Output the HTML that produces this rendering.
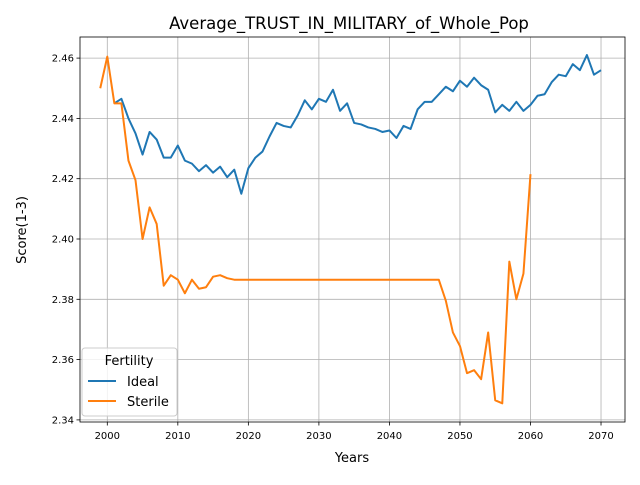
<!DOCTYPE html>
<html><head><meta charset="utf-8"><style>
body{margin:0;background:#fff;font-family:"Liberation Sans","DejaVu Sans",sans-serif}
svg text{font-family:"DejaVu Sans","Liberation Sans",sans-serif}
</style></head><body>
<svg id="chart" width="640" height="480">
<rect width="640" height="480" fill="#fff"/>
<text x="349" y="29" text-anchor="middle" font-size="16.5">Average_TRUST_IN_MILITARY_of_Whole_Pop</text>
<g id="grid"></g><g id="series"></g><g id="axes"></g>
<text x="352" y="462" text-anchor="middle" font-size="13">Years</text>
<text x="26" y="230" text-anchor="middle" font-size="13" transform="rotate(-90 26 230)">Score(1-3)</text>
<g>
<rect x="82" y="348" width="95" height="68" rx="3" fill="#fff" fill-opacity="0.8" stroke="#ccc"/>
<text x="129" y="365" text-anchor="middle" font-size="13">Fertility</text>
<g><line x1="88" y1="381" x2="116" y2="381" stroke="#1f77b4" stroke-width="2"/><text x="127" y="386" font-size="13">Ideal</text></g>
<g><line x1="88" y1="401" x2="116" y2="401" stroke="#ff7f0e" stroke-width="2"/><text x="127" y="406" font-size="13">Sterile</text></g>
</g>
</svg>
<script>
const idealYears=[];for(let y=2001;y<=2070;y++)idealYears.push(y);
const idealValues=[2.445,2.4465,2.440,2.435,2.428,2.4355,2.433,2.427,2.427,2.431,2.426,2.425,2.4225,2.4245,2.422,2.424,2.4205,2.423,2.415,2.4235,2.427,2.429,2.434,2.4385,2.4375,2.437,2.441,2.446,2.443,2.4465,2.4455,2.4495,2.4425,2.445,2.4385,2.438,2.437,2.4365,2.4355,2.436,2.4335,2.4375,2.4365,2.443,2.4455,2.4455,2.448,2.4505,2.449,2.4525,2.4505,2.4535,2.451,2.4495,2.442,2.4445,2.4425,2.4455,2.4425,2.4445,2.4475,2.448,2.452,2.4545,2.454,2.458,2.456,2.461,2.4545,2.456];
const sterileYears=[];for(let y=1999;y<=2060;y++)sterileYears.push(y);
const sterileValues=[2.450,2.4605,2.445,2.445,2.426,2.4195,2.400,2.4105,2.405,2.3845,2.388,2.3865,2.382,2.3865,2.3835,2.384,2.3875,2.388,2.387,2.3865,2.3865,2.3865,2.3865,2.3865,2.3865,2.3865,2.3865,2.3865,2.3865,2.3865,2.3865,2.3865,2.3865,2.3865,2.3865,2.3865,2.3865,2.3865,2.3865,2.3865,2.3865,2.3865,2.3865,2.3865,2.3865,2.3865,2.3865,2.3865,2.3865,2.3795,2.369,2.3645,2.3555,2.3565,2.3535,2.369,2.3465,2.3455,2.3925,2.380,2.3885,2.4215];
const xTicks=[2000,2010,2020,2030,2040,2050,2060,2070];
const yTicks=[2.34,2.36,2.38,2.40,2.42,2.44,2.46];
const L=80,R=625,T=37,B=422,x0=1996.13,x1=2073.4,y0=2.3393,y1=2.467;
const sx=v=>L+(v-x0)/(x1-x0)*(R-L);
const sy=v=>B-(v-y0)/(y1-y0)*(B-T);
const NS="http://www.w3.org/2000/svg";
function mk(tag,attrs,parent){const e=document.createElementNS(NS,tag);for(const k in attrs)e.setAttribute(k,attrs[k]);parent.appendChild(e);return e;}
const grid=document.getElementById('grid'),axes=document.getElementById('axes'),ser=document.getElementById('series');
xTicks.forEach(t=>{const x=sx(t);
mk('line',{x1:x,x2:x,y1:T,y2:B,stroke:'#b0b0b0','stroke-width':0.8},grid);
mk('line',{x1:x,x2:x,y1:B,y2:B+3.5,stroke:'#000','stroke-width':0.8},axes);
const tx=mk('text',{x:x,y:B+17,'text-anchor':'middle','font-size':10},axes);tx.textContent=t;

});
yTicks.forEach(t=>{const y=sy(t);
mk('line',{x1:L,x2:R,y1:y,y2:y,stroke:'#b0b0b0','stroke-width':0.8},grid);
mk('line',{x1:L-3.5,x2:L,y1:y,y2:y,stroke:'#000','stroke-width':0.8},axes);
const tx=mk('text',{x:L-6,y:y+3.5,'text-anchor':'end','font-size':10},axes);tx.textContent=t.toFixed(2);

});
mk('rect',{x:L,y:T,width:R-L,height:B-T,fill:'none',stroke:'#000','stroke-width':0.8},axes);
function line(xs,vs,color,name){const p=mk('polyline',{points:xs.map((x,i)=>sx(x)+','+sy(vs[i])).join(' '),fill:'none',stroke:color,'stroke-width':2,'stroke-linejoin':'round'},ser);

}
line(idealYears,idealValues,'#1f77b4','ideal-line');
line(sterileYears,sterileValues,'#ff7f0e','sterile-line');
</script>
</body></html>
